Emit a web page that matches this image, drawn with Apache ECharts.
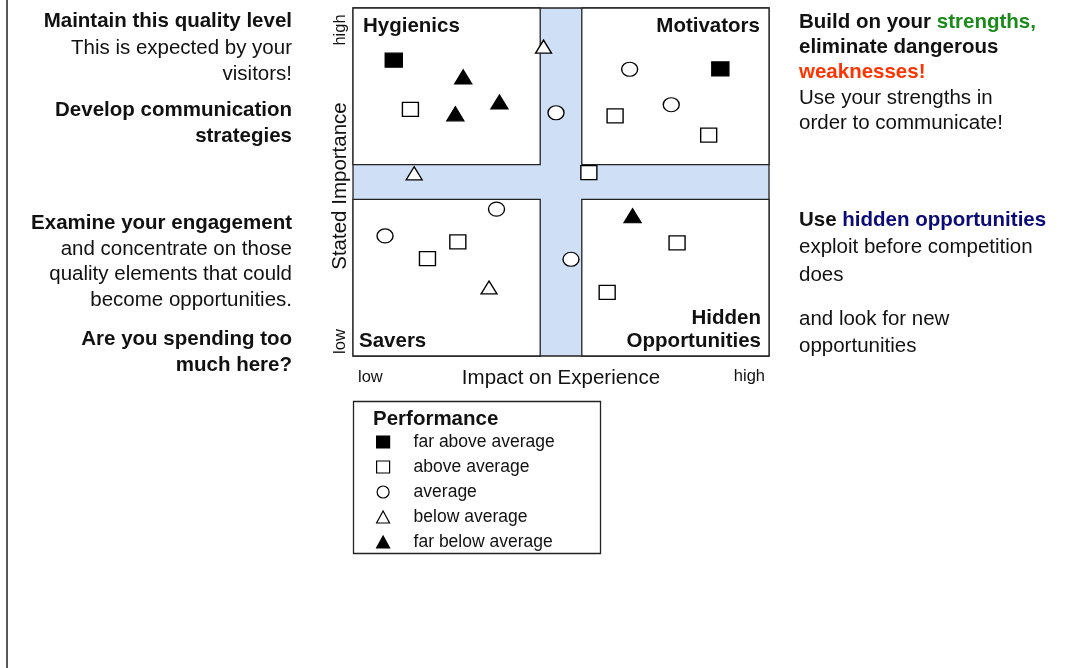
<!DOCTYPE html>
<html>
<head>
<meta charset="utf-8">
<script src="https://cdn.jsdelivr.net/npm/echarts@6/dist/echarts.min.js"></script>
<style>
  html, body { margin: 0; padding: 0; background: #fff; }
  #chart { width: 1073px; height: 668px; }
</style>
</head>
<body>
<div id="chart"></div>
<script>
// ---- Data (Impact on Experience = x, Stated Importance = y, 0..100) ----
const seriesNames = ['far above average', 'above average', 'average', 'below average', 'far below average'];
const farAboveAverage = [[9.8, 85.0], [88.3, 82.5]];
const aboveAverage = [[13.8, 70.9], [63.0, 69.0], [85.5, 63.5], [56.7, 52.7], [25.2, 32.8], [17.9, 28.0], [77.9, 32.5], [61.1, 18.3]];
const averagePerf = [[48.8, 69.9], [66.5, 82.4], [76.5, 72.2], [34.5, 42.2], [7.7, 34.5], [52.4, 27.8]];
const belowAverage = [[45.8, 88.9], [14.7, 52.5], [32.7, 19.7]];
const farBelowAverage = [[26.5, 80.2], [24.6, 69.6], [35.2, 73.0], [67.2, 40.3]];
const axisMin = 0, axisMax = 100;
const bandLow = 45, bandHigh = 55;
const quadrantNames = ['Hygienics', 'Motivators', 'Savers', 'Hidden', 'Opportunities'];
const axisTexts = { xName: 'Impact on Experience', yName: 'Stated Importance', low: 'low', high: 'high' };

const FONT = '"Liberation Sans", Arial, Helvetica, sans-serif';
const INK = '#111';
const LINE = '#222';
const BAND = '#cfdff5';

const chart = echarts.init(document.getElementById('chart'), null, { renderer: 'canvas' });

function txt(text, x, y, opts) {
  opts = opts || {};
  return {
    type: 'text', x: x, y: y, z: 100, rotation: opts.rotation || 0, silent: true,
    style: {
      text: text,
      fill: opts.fill || INK,
      fontFamily: FONT,
      fontSize: opts.size || 20.5,
      fontWeight: opts.bold ? 'bold' : 'normal',
      align: opts.align || 'left',
      verticalAlign: 'middle',
      rich: opts.rich
    }
  };
}

const richRight = {
  b: { fontFamily: FONT, fontSize: 20.5, fontWeight: 'bold', fill: INK },
  g: { fontFamily: FONT, fontSize: 20.5, fontWeight: 'bold', fill: '#1a8a1a' },
  r: { fontFamily: FONT, fontSize: 20.5, fontWeight: 'bold', fill: '#ff3300' },
  n: { fontFamily: FONT, fontSize: 20.5, fontWeight: 'bold', fill: '#0b0b78' }
};

const graphics = [
  { type: 'line', silent: true, shape: { x1: 7, y1: 0, x2: 7, y2: 668 }, style: { stroke: LINE, lineWidth: 1.5 } },
  // legend frame
  { type: 'rect', silent: true, z: 0, shape: { x: 353.5, y: 401.5, width: 247, height: 152 }, style: { fill: '#fff', stroke: LINE, lineWidth: 1.3 } },
  txt('Performance', 373, 419, { bold: true }),
  // left column
  txt('Maintain this quality level', 292, 21, { bold: true, align: 'right' }),
  txt('This is expected by your', 292, 48, { align: 'right' }),
  txt('visitors!', 292, 74, { align: 'right' }),
  txt('Develop communication', 292, 110, { bold: true, align: 'right' }),
  txt('strategies', 292, 136, { bold: true, align: 'right' }),
  txt('Examine your engagement', 292, 223, { bold: true, align: 'right' }),
  txt('and concentrate on those', 292, 249, { align: 'right' }),
  txt('quality elements that could', 292, 274, { align: 'right' }),
  txt('become opportunities.', 292, 300, { align: 'right' }),
  txt('Are you spending too', 292, 339, { bold: true, align: 'right' }),
  txt('much here?', 292, 365, { bold: true, align: 'right' }),
  // right column
  txt('{b|Build on your }{g|strengths,}', 799, 22, { rich: richRight }),
  txt('eliminate dangerous', 799, 47, { bold: true }),
  txt('weaknesses!', 799, 72, { bold: true, fill: '#ff3300' }),
  txt('Use your strengths in', 799, 98),
  txt('order to communicate!', 799, 123),
  txt('{b|Use }{n|hidden opportunities}', 799, 220, { rich: richRight }),
  txt('exploit before competition', 799, 247.5),
  txt('does', 799, 275),
  txt('and look for new', 799, 319.5),
  txt('opportunities', 799, 346),
  // quadrant labels
  txt(quadrantNames[0], 363, 26, { bold: true }),
  txt(quadrantNames[1], 760, 26, { bold: true, align: 'right' }),
  txt(quadrantNames[2], 359, 341, { bold: true }),
  txt(quadrantNames[3], 761, 318, { bold: true, align: 'right' }),
  txt(quadrantNames[4], 761, 341, { bold: true, align: 'right' }),
  // axis texts
  txt(axisTexts.xName, 561, 378, { align: 'center' }),
  txt(axisTexts.low, 358, 377, { size: 16.5 }),
  txt(axisTexts.high, 765, 376, { size: 16.5, align: 'right' }),
  txt(axisTexts.yName, 340, 186, { align: 'center', rotation: Math.PI / 2 }),
  txt(axisTexts.high, 340, 30, { size: 16.5, align: 'center', rotation: Math.PI / 2 }),
  txt(axisTexts.low, 340, 341.5, { size: 16.5, align: 'center', rotation: Math.PI / 2 })
];

const ellipse = 'path://M8,0A8,7,0,1,1,8,14A8,7,0,1,1,8,0Z';

function scatter(name, data, symbol, size, fill) {
  return {
    name: name, type: 'scatter', data: data, symbol: symbol, symbolSize: size, z: 5,
    itemStyle: { color: fill, borderColor: '#000', borderWidth: 1.3, opacity: 1 },
    emphasis: { disabled: true }
  };
}

const option = {
  animation: false,
  backgroundColor: '#fff',
  grid: { left: 353, top: 8, right: 304, bottom: 312, containLabel: false },
  xAxis: { type: 'value', min: axisMin, max: axisMax, show: false },
  yAxis: { type: 'value', min: axisMin, max: axisMax, show: false },
  legend: {
    orient: 'vertical', left: 376, top: 433, padding: 0, z: 50,
    itemWidth: 13, itemHeight: 12, itemGap: 7,
    symbolKeepAspect: false,
    selectedMode: false,
    itemStyle: { borderWidth: 1.2, borderColor: '#000' },
    textStyle: { fontFamily: FONT, fontSize: 17.5, color: INK, padding: [0, 0, 0, 19] },
    data: [
      { name: seriesNames[0], icon: 'rect' },
      { name: seriesNames[1], icon: 'rect' },
      { name: seriesNames[2], icon: 'circle' },
      { name: seriesNames[3], icon: 'triangle' },
      { name: seriesNames[4], icon: 'triangle' }
    ]
  },
  graphic: graphics,
  series: [
    {
      type: 'scatter', data: [], silent: true,
      markArea: {
        silent: true,
        z: 1,
        data: [
          [{ xAxis: axisMin, yAxis: axisMin, itemStyle: { color: BAND, borderColor: LINE, borderWidth: 1.3 } }, { xAxis: axisMax, yAxis: axisMax }],
          [{ xAxis: axisMin, yAxis: bandHigh, itemStyle: { color: '#fff', borderColor: LINE, borderWidth: 1.3 } }, { xAxis: bandLow, yAxis: axisMax }],
          [{ xAxis: bandHigh, yAxis: bandHigh, itemStyle: { color: '#fff', borderColor: LINE, borderWidth: 1.3 } }, { xAxis: axisMax, yAxis: axisMax }],
          [{ xAxis: axisMin, yAxis: axisMin, itemStyle: { color: '#fff', borderColor: LINE, borderWidth: 1.3 } }, { xAxis: bandLow, yAxis: bandLow }],
          [{ xAxis: bandHigh, yAxis: axisMin, itemStyle: { color: '#fff', borderColor: LINE, borderWidth: 1.3 } }, { xAxis: axisMax, yAxis: bandLow }]
        ],
        label: { show: false }
      }
    },
    scatter(seriesNames[0], farAboveAverage, 'rect', [17, 14], '#000'),
    scatter(seriesNames[1], aboveAverage, 'rect', [16, 14], '#fff'),
    scatter(seriesNames[2], averagePerf, ellipse, [16, 14], '#fff'),
    scatter(seriesNames[3], belowAverage, 'triangle', [16, 13], '#fff'),
    scatter(seriesNames[4], farBelowAverage, 'triangle', [17, 14], '#000')
  ]
};

chart.setOption(option);
</script>
</body>
</html>
